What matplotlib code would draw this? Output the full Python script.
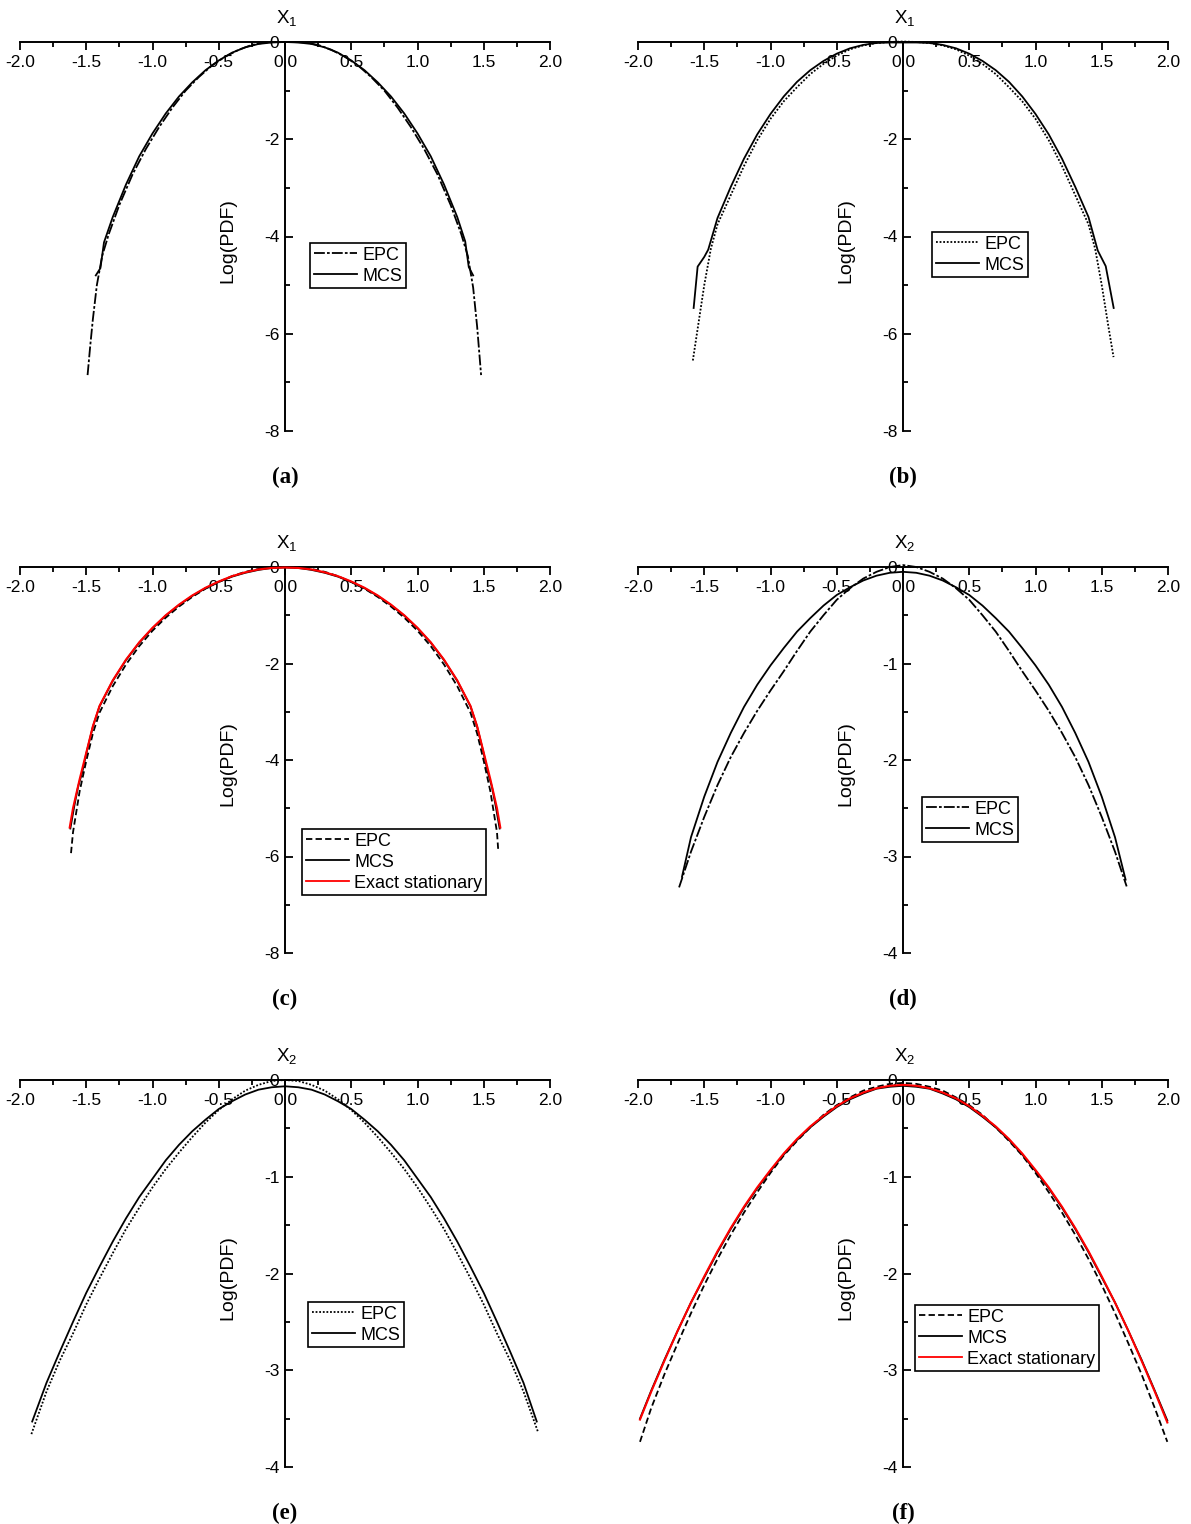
import matplotlib
matplotlib.use("Agg")
import matplotlib.pyplot as plt
from matplotlib.lines import Line2D
from matplotlib.ticker import FixedLocator, FixedFormatter, MultipleLocator

plt.rcParams["font.family"] = ["Liberation Sans", "DejaVu Sans"]
plt.rcParams["axes.unicode_minus"] = False

# ---------------- data ----------------
# (a) X1
a_mcs_x = [-1.428, -1.393, -1.366, -1.30, -1.20, -1.10, -1.00, -0.90, -0.80, -0.70, -0.60, -0.50,
           -0.40, -0.30, -0.20, -0.10, 0.00, 0.10, 0.20, 0.30, 0.40, 0.50, 0.60, 0.70, 0.80,
           0.90, 1.00, 1.10, 1.20, 1.30, 1.36, 1.387, 1.42]
a_mcs_y = [-4.80, -4.65, -4.12, -3.60, -2.93, -2.35, -1.88, -1.47, -1.12, -0.83, -0.58, -0.38,
           -0.22, -0.11, -0.04, -0.01, 0.00, -0.01, -0.04, -0.11, -0.22, -0.38, -0.58, -0.83, -1.12,
           -1.47, -1.88, -2.35, -2.93, -3.60, -4.10, -4.63, -4.80]
a_epc_x = [-1.49, -1.47, -1.45, -1.42, -1.38, -1.33, -1.25, -1.15, -1.05, -0.95, -0.85, -0.75,
           -0.65, -0.55, -0.45, -0.35, -0.25, -0.15, -0.05, 0.05, 0.15, 0.25, 0.35, 0.45, 0.55,
           0.65, 0.75, 0.85, 0.95, 1.05, 1.15, 1.25, 1.33, 1.38, 1.42, 1.45, 1.48]
a_epc_y = [-6.85, -6.25, -5.70, -5.00, -4.40, -3.95, -3.35, -2.72, -2.20, -1.75, -1.35, -1.00,
           -0.72, -0.48, -0.30, -0.16, -0.06, -0.01, 0.00, 0.00, -0.01, -0.06, -0.16, -0.30, -0.48,
           -0.72, -1.00, -1.35, -1.75, -2.20, -2.72, -3.35, -3.95, -4.40, -5.05, -5.85, -6.85]

# (b) X1
b_mcs_x = [-1.58, -1.55, -1.50, -1.47, -1.40, -1.30, -1.20, -1.10, -1.00, -0.90, -0.80, -0.70,
           -0.60, -0.50, -0.40, -0.30, -0.20, -0.10, 0.00, 0.10, 0.20, 0.30, 0.40, 0.50, 0.60,
           0.70, 0.80, 0.90, 1.00, 1.10, 1.20, 1.30, 1.40, 1.47, 1.53, 1.59]
b_mcs_y = [-5.47, -4.62, -4.42, -4.27, -3.62, -2.98, -2.40, -1.90, -1.48, -1.12, -0.82, -0.58,
           -0.39, -0.24, -0.13, -0.06, -0.02, -0.01, -0.01, -0.01, -0.02, -0.06, -0.13, -0.24, -0.39,
           -0.58, -0.82, -1.12, -1.48, -1.90, -2.40, -2.98, -3.60, -4.29, -4.61, -5.47]
b_epc_x = [-1.586, -1.55, -1.50, -1.45, -1.40, -1.30, -1.20, -1.10, -1.00, -0.90, -0.80, -0.70,
           -0.60, -0.50, -0.40, -0.30, -0.20, -0.10, 0.00, 0.10, 0.20, 0.30, 0.40, 0.50, 0.60,
           0.70, 0.80, 0.90, 1.00, 1.10, 1.20, 1.30, 1.40, 1.45, 1.50, 1.55, 1.589]
b_epc_y = [-6.55, -5.90, -5.00, -4.25, -3.75, -3.15, -2.55, -2.02, -1.58, -1.22, -0.93, -0.66,
           -0.45, -0.28, -0.15, -0.07, -0.02, 0.00, 0.01, 0.00, -0.02, -0.07, -0.15, -0.28, -0.45,
           -0.66, -0.93, -1.22, -1.58, -2.02, -2.55, -3.15, -3.75, -4.25, -5.00, -5.85, -6.48]

# (c) X1
c_x = [-1.625, -1.60, -1.55, -1.50, -1.45, -1.40, -1.30, -1.20, -1.10, -1.00, -0.90, -0.80,
       -0.70, -0.60, -0.50, -0.40, -0.30, -0.20, -0.10, 0.00, 0.10, 0.20, 0.30, 0.40, 0.50,
       0.60, 0.70, 0.80, 0.90, 1.00, 1.10, 1.20, 1.30, 1.40, 1.45, 1.50, 1.55, 1.60, 1.625]
c_exact_y = [-5.40, -5.00, -4.40, -3.85, -3.30, -2.88, -2.35, -1.92, -1.56, -1.26, -1.00, -0.78,
             -0.59, -0.43, -0.30, -0.19, -0.11, -0.05, -0.02, -0.01, -0.02, -0.05, -0.11, -0.19, -0.30,
             -0.43, -0.59, -0.78, -1.00, -1.26, -1.56, -1.92, -2.35, -2.88, -3.30, -3.85, -4.40, -5.00, -5.40]
c_mcs_x = [-1.62, -1.59, -1.562, -1.53, -1.50, -1.45, -1.40, -1.30, -1.20, -1.10, -1.00, -0.90,
           -0.80, -0.70, -0.60, -0.50, -0.40, -0.30, -0.20, -0.10, 0.00, 0.10, 0.20, 0.30, 0.40,
           0.50, 0.60, 0.70, 0.80, 0.90, 1.00, 1.10, 1.20, 1.30, 1.40, 1.45, 1.50, 1.53, 1.562,
           1.59, 1.62]
c_mcs_y = [-5.42, -4.95, -4.56, -4.25, -3.87, -3.31, -2.89, -2.36, -1.93, -1.57, -1.27, -1.01,
           -0.79, -0.60, -0.44, -0.31, -0.20, -0.12, -0.06, -0.02, -0.01, -0.02, -0.06, -0.12, -0.20,
           -0.31, -0.44, -0.60, -0.79, -1.01, -1.27, -1.57, -1.93, -2.36, -2.89, -3.31, -3.87, -4.25,
           -4.56, -4.95, -5.42]
c_epc_x = [-1.615, -1.60, -1.55, -1.50, -1.45, -1.40, -1.30, -1.20, -1.10, -1.00, -0.90, -0.80,
           -0.70, -0.60, -0.50, -0.40, -0.30, -0.20, -0.10, 0.00, 0.10, 0.20, 0.30, 0.40, 0.50,
           0.60, 0.70, 0.80, 0.90, 1.00, 1.10, 1.20, 1.30, 1.40, 1.45, 1.50, 1.55, 1.60, 1.61]
c_epc_y = [-5.93, -5.50, -4.65, -4.02, -3.45, -3.02, -2.47, -2.02, -1.64, -1.32, -1.05, -0.82,
           -0.62, -0.45, -0.31, -0.19, -0.10, -0.04, -0.01, 0.00, -0.01, -0.04, -0.10, -0.19, -0.31,
           -0.45, -0.62, -0.82, -1.05, -1.32, -1.64, -2.02, -2.47, -3.02, -3.45, -4.02, -4.65, -5.50, -5.90]

# (d) X2
d_mcs_x = [-1.668, -1.60, -1.50, -1.40, -1.30, -1.20, -1.10, -1.00, -0.90, -0.80, -0.70, -0.60,
           -0.50, -0.40, -0.30, -0.20, -0.10, 0.00, 0.10, 0.20, 0.30, 0.40, 0.50, 0.60, 0.70,
           0.80, 0.90, 1.00, 1.10, 1.20, 1.30, 1.40, 1.50, 1.60, 1.68]
d_mcs_y = [-3.21, -2.80, -2.38, -2.02, -1.72, -1.45, -1.22, -1.02, -0.84, -0.67, -0.53, -0.40,
           -0.29, -0.21, -0.14, -0.09, -0.06, -0.05, -0.06, -0.09, -0.14, -0.21, -0.29, -0.40, -0.53,
           -0.67, -0.84, -1.02, -1.22, -1.45, -1.72, -2.02, -2.38, -2.80, -3.24]
d_epc_x = [-1.69, -1.60, -1.50, -1.40, -1.30, -1.20, -1.10, -1.00, -0.90, -0.80, -0.70, -0.60,
           -0.50, -0.40, -0.30, -0.20, -0.10, 0.00, 0.10, 0.20, 0.30, 0.40, 0.50, 0.60, 0.70,
           0.80, 0.90, 1.00, 1.10, 1.20, 1.30, 1.40, 1.50, 1.60, 1.688]
d_epc_y = [-3.32, -2.95, -2.59, -2.26, -1.97, -1.72, -1.49, -1.28, -1.08, -0.87, -0.67, -0.50,
           -0.34, -0.22, -0.12, -0.05, 0.00, 0.02, 0.00, -0.05, -0.12, -0.22, -0.34, -0.50, -0.67,
           -0.87, -1.08, -1.28, -1.49, -1.72, -1.97, -2.26, -2.59, -2.95, -3.31]

# (e) X2
e_mcs_x = [-1.908, -1.80, -1.70, -1.60, -1.50, -1.40, -1.30, -1.20, -1.10, -1.00, -0.90, -0.80,
           -0.70, -0.60, -0.50, -0.40, -0.30, -0.20, -0.10, 0.00, 0.10, 0.20, 0.30, 0.40, 0.50,
           0.60, 0.70, 0.80, 0.90, 1.00, 1.10, 1.20, 1.30, 1.40, 1.50, 1.60, 1.70, 1.80, 1.90]
e_mcs_y = [-3.53, -3.13, -2.81, -2.50, -2.20, -1.93, -1.67, -1.43, -1.21, -1.02, -0.83, -0.67,
           -0.53, -0.41, -0.30, -0.22, -0.15, -0.10, -0.075, -0.065, -0.075, -0.10, -0.15, -0.22, -0.30,
           -0.41, -0.53, -0.67, -0.83, -1.02, -1.21, -1.43, -1.67, -1.93, -2.20, -2.50, -2.81, -3.13, -3.53]
e_epc_x = [-1.914, -1.80, -1.70, -1.60, -1.50, -1.40, -1.30, -1.20, -1.10, -1.00, -0.90, -0.80,
           -0.70, -0.60, -0.50, -0.40, -0.30, -0.20, -0.10, 0.00, 0.10, 0.20, 0.30, 0.40, 0.50,
           0.60, 0.70, 0.80, 0.90, 1.00, 1.10, 1.20, 1.30, 1.40, 1.50, 1.60, 1.70, 1.80, 1.91]
e_epc_y = [-3.66, -3.22, -2.90, -2.62, -2.32, -2.05, -1.79, -1.54, -1.32, -1.11, -0.92, -0.75,
           -0.59, -0.44, -0.31, -0.20, -0.11, -0.05, -0.01, 0.00, -0.01, -0.05, -0.11, -0.20, -0.31,
           -0.44, -0.59, -0.75, -0.92, -1.11, -1.32, -1.54, -1.79, -2.05, -2.32, -2.62, -2.90, -3.22, -3.64]

# (f) X2
f_x = [-1.985, -1.90, -1.80, -1.70, -1.60, -1.50, -1.40, -1.30, -1.20, -1.10, -1.00, -0.90,
       -0.80, -0.70, -0.60, -0.50, -0.40, -0.30, -0.20, -0.10, 0.00, 0.10, 0.20, 0.30, 0.40,
       0.50, 0.60, 0.70, 0.80, 0.90, 1.00, 1.10, 1.20, 1.30, 1.40, 1.50, 1.60, 1.70, 1.80,
       1.90, 1.995]
f_exact_y = [-3.51, -3.22, -2.90, -2.59, -2.30, -2.03, -1.77, -1.53, -1.31, -1.11, -0.93, -0.76,
             -0.61, -0.48, -0.37, -0.27, -0.19, -0.13, -0.085, -0.06, -0.05, -0.06, -0.085, -0.13, -0.19,
             -0.27, -0.37, -0.48, -0.61, -0.76, -0.93, -1.11, -1.31, -1.53, -1.77, -2.03, -2.30, -2.59, -2.90,
             -3.22, -3.54]
f_mcs_y = [-3.50, -3.21, -2.89, -2.59, -2.30, -2.04, -1.78, -1.54, -1.32, -1.12, -0.94, -0.77,
           -0.62, -0.49, -0.38, -0.28, -0.20, -0.14, -0.09, -0.07, -0.06, -0.07, -0.09, -0.14, -0.20,
           -0.28, -0.38, -0.49, -0.62, -0.77, -0.94, -1.12, -1.32, -1.54, -1.78, -2.04, -2.30, -2.59, -2.89,
           -3.21, -3.52]
f_epc_y = [-3.74, -3.39, -3.04, -2.72, -2.41, -2.12, -1.85, -1.60, -1.37, -1.16, -0.96, -0.78,
           -0.63, -0.49, -0.36, -0.26, -0.18, -0.11, -0.07, -0.04, -0.03, -0.04, -0.07, -0.11, -0.18,
           -0.26, -0.36, -0.49, -0.63, -0.78, -0.96, -1.16, -1.37, -1.60, -1.85, -2.12, -2.41, -2.72, -3.04,
           -3.39, -3.74]

x_ticks = [-2.0, -1.5, -1.0, -0.5, 0.0, 0.5, 1.0, 1.5, 2.0]
x_tick_labels = ["-2.0", "-1.5", "-1.0", "-0.5", "0.0", "0.5", "1.0", "1.5", "2.0"]
y_ticks_8 = [0, -2, -4, -6, -8]
y_tick_labels_8 = ["0", "-2", "-4", "-6", "-8"]
y_ticks_4 = [0, -1, -2, -3, -4]
y_tick_labels_4 = ["0", "-1", "-2", "-3", "-4"]

# ---------------- layout ----------------
W, H = 1191, 1524
fig = plt.figure(figsize=(W / 100, H / 100), dpi=100)


def fx(px):
    return px / W


def fy(py):
    return 1 - py / H


COLS = [(20, 550), (638, 1168)]
ROWS = [(42, 431), (567, 953), (1080, 1467)]

DASHDOT = (0, (6, 1.2, 1.5, 1.2))
DOTTED = (0, (1.0, 1.0))
DASHED = (0, (3.5, 1.8))
LW = 1.3
TICKSIZE = 12.5


def make_axes(col, row, ymin, yticks, ylabels, xname, caption):
    l, r = COLS[col]
    t, b = ROWS[row]
    ax = fig.add_axes([fx(l), fy(b), (r - l) / W, (b - t) / H])
    ax.set_xlim(-2, 2)
    ax.set_ylim(ymin, 0)
    ax.patch.set_visible(False)
    for s in ("top", "right"):
        ax.spines[s].set_visible(False)
    ax.spines["bottom"].set_position(("data", 0))
    ax.spines["left"].set_position(("data", 0))
    for s in ("bottom", "left"):
        ax.spines[s].set_linewidth(1.4)
    ax.xaxis.set_major_locator(FixedLocator(x_ticks))
    ax.xaxis.set_major_formatter(FixedFormatter(x_tick_labels))
    ax.xaxis.set_minor_locator(MultipleLocator(0.25))
    ax.yaxis.set_major_locator(FixedLocator(yticks))
    ax.yaxis.set_major_formatter(FixedFormatter(ylabels))
    ax.yaxis.set_minor_locator(MultipleLocator(abs(yticks[1] - yticks[0]) / 2))
    ax.tick_params(axis="x", which="both", direction="out", labelsize=TICKSIZE, pad=4, width=1.3)
    ax.tick_params(axis="x", which="major", length=5.5)
    ax.tick_params(axis="x", which="minor", length=3.5)
    ax.tick_params(axis="y", which="both", direction="in", labelsize=TICKSIZE, pad=4, width=1.3)
    ax.tick_params(axis="y", which="major", length=5.5)
    ax.tick_params(axis="y", which="minor", length=3.5)
    cx = (l + r) / 2
    fig.text(fx(cx + 2), fy(t - 24), r"$\mathregular{X_{%s}}$" % xname, fontsize=13.5,
             ha="center", va="center")
    fig.text(fx(cx - 57), fy((t + b) / 2 + 4), "Log(PDF)", fontsize=14, rotation=90,
             ha="center", va="center")
    fig.text(fx(cx), fy(b + 46), caption, fontsize=16.5, fontweight="bold",
             family=["Liberation Serif", "DejaVu Serif"], ha="center", va="center")
    return ax


def add_legend(ax, handles, labels, left, top):
    leg = ax.legend(handles, labels, loc="upper left",
                    bbox_to_anchor=(fx(left), fy(top)), bbox_transform=fig.transFigure,
                    borderaxespad=0, fontsize=13, handlelength=2.4, handletextpad=0.3,
                    labelspacing=0.22, borderpad=0.2, fancybox=False, framealpha=1,
                    edgecolor="black")
    leg.get_frame().set_linewidth(1.2)
    return leg


def curve(ax, x, y, ls="-", color="black", lw=LW, z=3):
    ax.plot(x, y, color=color, linestyle=ls, linewidth=lw, clip_on=False, zorder=z)


def h(ls, color="black"):
    return Line2D([], [], color=color, linestyle=ls, linewidth=LW)


# (a)
ax = make_axes(0, 0, -8, y_ticks_8, y_tick_labels_8, "1", "(a)")
curve(ax, a_epc_x, a_epc_y, DASHDOT)
curve(ax, a_mcs_x, a_mcs_y, "-")
add_legend(ax, [h(DASHDOT), h("-")], ["EPC", "MCS"], 310, 243)

# (b)
ax = make_axes(1, 0, -8, y_ticks_8, y_tick_labels_8, "1", "(b)")
curve(ax, b_epc_x, b_epc_y, DOTTED)
curve(ax, b_mcs_x, b_mcs_y, "-")
add_legend(ax, [h(DOTTED), h("-")], ["EPC", "MCS"], 932, 232)

# (c)
ax = make_axes(0, 1, -8, y_ticks_8, y_tick_labels_8, "1", "(c)")
curve(ax, c_epc_x, c_epc_y, DASHED)
curve(ax, c_mcs_x, c_mcs_y, "-")
curve(ax, c_x, c_exact_y, "-", color="red", lw=1.5, z=4)
add_legend(ax, [h(DASHED), h("-"), h("-", "red")], ["EPC", "MCS", "Exact stationary"], 302, 829)

# (d)
ax = make_axes(1, 1, -4, y_ticks_4, y_tick_labels_4, "2", "(d)")
curve(ax, d_epc_x, d_epc_y, DASHDOT)
curve(ax, d_mcs_x, d_mcs_y, "-")
add_legend(ax, [h(DASHDOT), h("-")], ["EPC", "MCS"], 922, 797)

# (e)
ax = make_axes(0, 2, -4, y_ticks_4, y_tick_labels_4, "2", "(e)")
curve(ax, e_epc_x, e_epc_y, DOTTED)
curve(ax, e_mcs_x, e_mcs_y, "-")
add_legend(ax, [h(DOTTED), h("-")], ["EPC", "MCS"], 308, 1302)

# (f)
ax = make_axes(1, 2, -4, y_ticks_4, y_tick_labels_4, "2", "(f)")
curve(ax, f_x, f_epc_y, DASHED)
curve(ax, f_x, f_mcs_y, "-")
curve(ax, f_x, f_exact_y, "-", color="red", lw=1.5, z=4)
add_legend(ax, [h(DASHED), h("-"), h("-", "red")], ["EPC", "MCS", "Exact stationary"], 915, 1305)

fig.savefig("out.png", dpi=100)
